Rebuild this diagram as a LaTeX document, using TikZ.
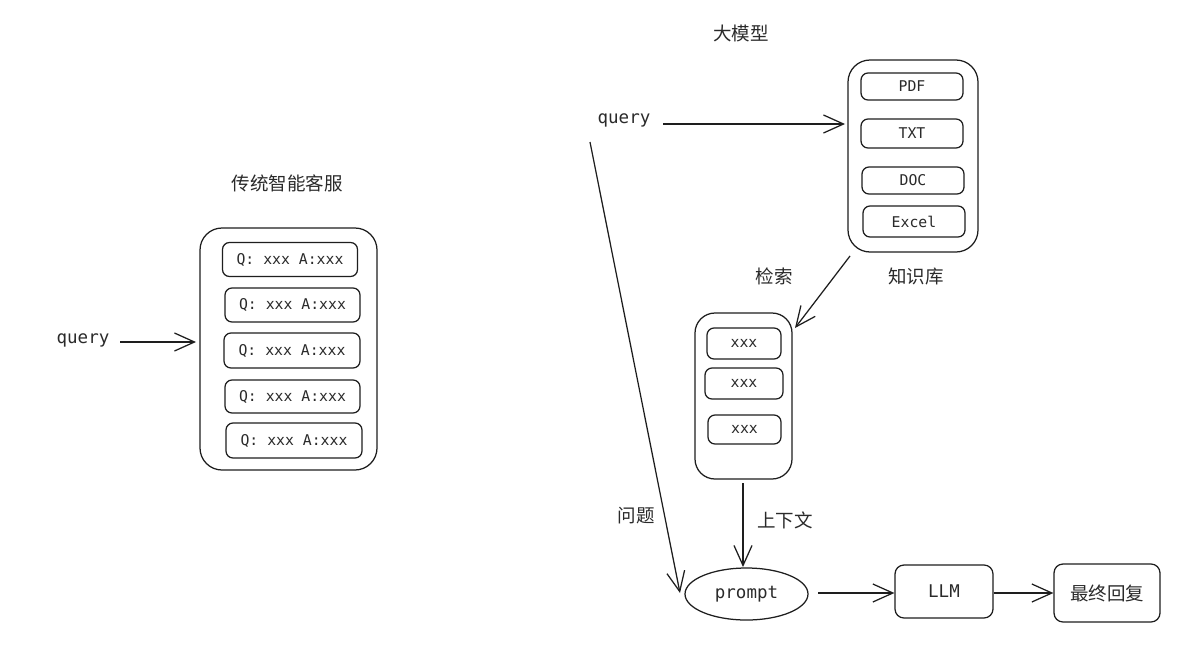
\documentclass[tikz,border=0pt]{standalone}
\usepackage{fontspec}
\usetikzlibrary{arrows.meta,shapes.geometric}
\newfontfamily\monofont{DejaVu Sans Mono}
\newfontfamily\cjk{Noto Sans CJK SC}
\definecolor{ink}{HTML}{1E1E1E}
\definecolor{label}{HTML}{2A2A2A}
\tikzset{
  ink/.style={draw=ink, line width=1.25pt},
  outerbox/.style={ink, rounded corners=22pt, inner sep=0pt},
  itembox/.style={ink, rounded corners=7pt, inner sep=0pt, text=label,
    font=\monofont\fontsize{14.8}{17}\selectfont},
  bigbox/.style={ink, rounded corners=9pt, inner sep=0pt, text=label},
  codetext/.style={text=label, font=\monofont\fontsize{17.5}{20}\selectfont},
  cjktext/.style={text=label, font=\cjk\fontsize{18.5}{22}\selectfont},
  flow/.style={draw=ink, line width=1.25pt,
    -{Straight Barb[length=20pt,width=18pt,line width=1.25pt]}},
}
\begin{document}
\begin{tikzpicture}[x=1pt,y=-1pt]
\useasboundingbox[fill=white] (0,0) rectangle (1204,648);

% ---- traditional customer service ----
\node[cjktext] (t1) at (287,183) {传统智能客服};
\node[outerbox, minimum width=177pt, minimum height=242pt] (faq) at (288.5,349) {};
\node[itembox, minimum width=135pt, minimum height=34pt] (q1) at (290,259.5) {Q: xxx A:xxx};
\node[itembox, minimum width=135pt, minimum height=34pt] (q2) at (292.5,305) {Q: xxx A:xxx};
\node[itembox, minimum width=136pt, minimum height=35pt] (q3) at (292,350.5) {Q: xxx A:xxx};
\node[itembox, minimum width=135pt, minimum height=33pt] (q4) at (292.5,396.5) {Q: xxx A:xxx};
\node[itembox, minimum width=136pt, minimum height=35pt] (q5) at (294,440.5) {Q: xxx A:xxx};
\node[codetext] (query1) at (83,340) {query};
\coordinate (in1) at (120,342);
\coordinate (to1) at (196,342);
\draw[flow] (in1) -- (to1);

% ---- LLM pipeline ----
\node[cjktext] (t2) at (741,33) {大模型};
\node[outerbox, minimum width=130pt, minimum height=192pt] (kb) at (913,156) {};
\node[itembox, minimum width=102pt, minimum height=27pt] (pdf) at (912,86.5) {PDF};
\node[itembox, minimum width=102pt, minimum height=29pt] (txt) at (912,133.5) {TXT};
\node[itembox, minimum width=102pt, minimum height=27pt] (doc) at (913,180.5) {DOC};
\node[itembox, minimum width=102pt, minimum height=31pt] (xls) at (914,221.5) {Excel};
\node[cjktext] (kblabel) at (916,277) {知识库};

\node[codetext] (query2) at (624,120) {query};
\coordinate (in2) at (663,124);
\coordinate (to2) at (845,124);
\draw[flow] (in2) -- (to2);

\node[outerbox, minimum width=97pt, minimum height=166pt, rounded corners=20pt] (chunks) at (743.5,396) {};
\node[itembox, minimum width=74pt, minimum height=31pt] (c1) at (744,343.5) {xxx};
\node[itembox, minimum width=78pt, minimum height=31pt] (c2) at (744,383.5) {xxx};
\node[itembox, minimum width=73pt, minimum height=29pt] (c3) at (744.5,429.5) {xxx};

\coordinate (kbout) at (850,256);
\coordinate (chin) at (795,328);
\draw[flow] (kbout) -- (chin);
\node[cjktext] (search) at (774,276) {检索};

\node[ink, ellipse, minimum width=123pt, minimum height=52pt, inner sep=0pt,
      codetext] (prompt) at (746.5,594) {prompt};

\coordinate (chout) at (743,483);
\coordinate (pin) at (743,567);
\draw[flow] (chout) -- (pin);
\node[cjktext] (ctx) at (785,520) {上下文};

\coordinate (qstart) at (590,142);
\coordinate (qend) at (680,593);
\draw[flow] (qstart) -- (qend);
\node[cjktext] (question) at (636,516) {问题};

\node[bigbox, minimum width=98pt, minimum height=53pt, codetext] (llm) at (944,591.5) {LLM};
\node[bigbox, minimum width=106pt, minimum height=58pt, cjktext] (ans) at (1107,593) {最终回复};

\draw[flow] (818,593) -- (llm.west |- 0,593);
\draw[flow] (llm.east |- 0,593) -- (ans.west |- 0,593);
\end{tikzpicture}
\end{document}
